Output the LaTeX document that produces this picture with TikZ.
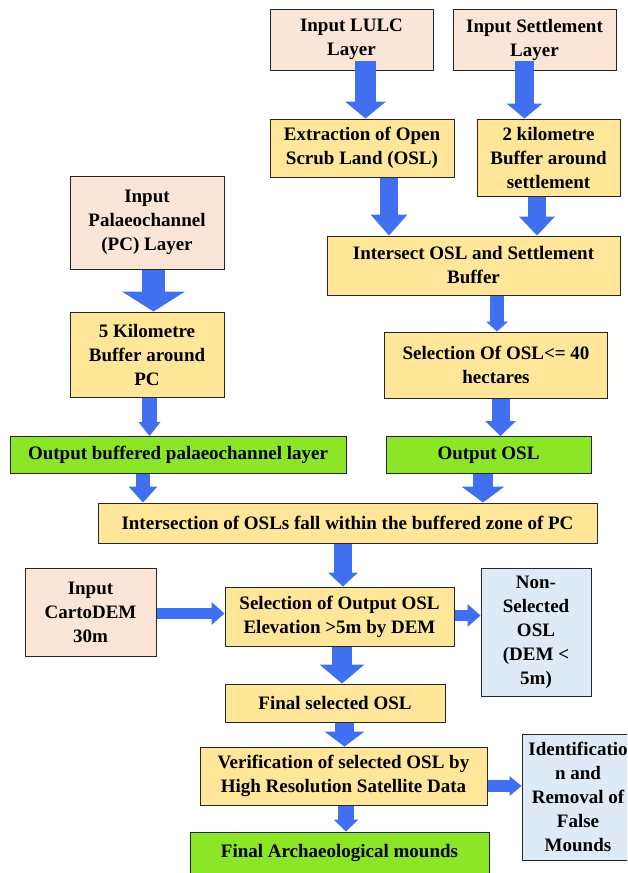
\documentclass[tikz,border=0pt]{standalone}
\usepackage{fontspec}
\setmainfont{Liberation Serif}
\usetikzlibrary{arrows.meta}

\definecolor{inputpink}{RGB}{251,229,214}
\definecolor{stepyellow}{RGB}{255,230,153}
\definecolor{outgreen}{RGB}{140,230,40}
\definecolor{dropblue}{RGB}{222,235,247}
\definecolor{flowblue}{RGB}{64,112,240}

\tikzset{
  box/.style={draw=black!85, line width=1pt, align=center, inner sep=2pt,
    font=\fontsize{19}{24}\selectfont\bfseries},
  inbox/.style={box, fill=inputpink},
  procbox/.style={box, fill=stepyellow},
  outbox/.style={box, fill=outgreen},
  dropbox/.style={box, fill=dropblue},
  % shaft width, head width, head length
  flow/.style n args={3}{draw=flowblue, line width=#1,
    -{Triangle[width=#2, length=#3, line width=0pt]}},
}

\begin{document}
\begin{tikzpicture}[x=1pt, y=-1pt]
    \useasboundingbox (0,0) rectangle (627,873);
    \clip (0,0) rectangle (627,873);

    % input layers
    \node[inbox, minimum width=163pt, minimum height=61pt] (lulc) at (351.5,39.5) {Input LULC\\Layer};
    \node[inbox, minimum width=163pt, minimum height=61pt] (settin) at (534.5,39.5) {Input Settlement\\Layer};
    \node[inbox, minimum width=154pt, minimum height=93pt] (pcin) at (147,222.5) {Input\\Palaeochannel\\(PC) Layer};
    \node[inbox, minimum width=131pt, minimum height=88pt] (dem) at (90.5,612) {Input\\CartoDEM\\30m};

    % processing steps
    \node[procbox, minimum width=184pt, minimum height=58pt] (extract) at (362,148) {Extraction of Open\\Scrub Land (OSL)};
    \node[procbox, minimum width=143pt, minimum height=77pt] (sbuf) at (548.5,157.5) {2 kilometre\\Buffer around\\settlement};
    \node[procbox, minimum width=293pt, minimum height=59pt] (isect) at (473.5,265.5) {Intersect OSL and Settlement\\Buffer};
    \node[procbox, minimum width=154pt, minimum height=85pt] (pcbuf) at (147,354.5) {5 Kilometre\\Buffer around\\PC};
    \node[procbox, minimum width=223pt, minimum height=66pt] (selarea) at (496,365) {Selection Of OSL<= 40\\hectares};
    \node[procbox, minimum width=499pt, minimum height=40pt] (within) at (347.5,523) {Intersection of OSLs fall within the buffered zone of PC};
    \node[procbox, minimum width=229pt, minimum height=59pt] (selelev) at (339.5,616.5) {Selection of Output OSL\\Elevation >5m by DEM};
    \node[procbox, minimum width=220pt, minimum height=38pt] (final) at (335,703) {Final selected OSL};
    \node[procbox, minimum width=287pt, minimum height=58pt] (verify) at (343.5,776) {Verification of selected OSL by\\High Resolution Satellite Data};

    % outputs
    \node[outbox, minimum width=336pt, minimum height=37pt] (outpc) at (178,455) {Output buffered palaeochannel layer};
    \node[outbox, minimum width=205pt, minimum height=37pt] (outosl) at (488.5,455) {Output OSL};
    \node[outbox, minimum width=299pt, minimum height=42pt] (arch) at (339.5,853) {Final Archaeological mounds};

    % dropped sites
    \node[dropbox, minimum width=110pt, minimum height=128pt] (nonsel) at (536,632) {Non-\\Selected\\OSL\\(DEM <\\5m)};
    \node[dropbox, minimum width=112pt, minimum height=126pt] (ident) at (578,797) {Identificatio\\n and\\Removal of\\False\\Mounds};

    % block arrows
    \draw[flow={21pt}{41pt}{17pt}] ([xshift=14pt,yshift=10pt]lulc.south) -- ([xshift=14pt]lulc.south |- extract.north);
    \draw[flow={19pt}{36pt}{15pt}] ([xshift=-10pt,yshift=10pt]settin.south) -- ([xshift=-10pt]settin.south |- sbuf.north);
    \draw[flow={18pt}{37pt}{21pt}] ([xshift=27pt]extract.south) -- ([xshift=27pt]extract.south |- isect.north);
    \draw[flow={18pt}{36pt}{19pt}] ([xshift=-11.5pt]sbuf.south) -- ([xshift=-11.5pt]sbuf.south |- isect.north);
    \draw[flow={23pt}{63pt}{20pt}] ([xshift=6.5pt]pcin.south) -- ([xshift=6.5pt]pcin.south |- pcbuf.north);
    \draw[flow={14pt}{22pt}{10pt}] ([xshift=23.5pt]isect.south) -- ([xshift=23.5pt]isect.south |- selarea.north);
    \draw[flow={15pt}{22pt}{14pt}] ([xshift=2.5pt]pcbuf.south) -- ([xshift=2.5pt]pcbuf.south |- outpc.north);
    \draw[flow={18pt}{31pt}{15pt}] ([xshift=4.5pt]selarea.south) -- ([xshift=4.5pt]selarea.south |- outosl.north);
    \draw[flow={14pt}{29pt}{16pt}] ([xshift=-35pt]outpc.south) -- ([xshift=-35pt]outpc.south |- within.north);
    \draw[flow={20pt}{43pt}{16pt}] ([xshift=-5.5pt]outosl.south) -- ([xshift=-5.5pt]outosl.south |- within.north);
    \draw[flow={18pt}{30pt}{14pt}] ([xshift=-4.5pt]within.south) -- ([xshift=-4.5pt]within.south |- selelev.north);
    \draw[flow={11pt}{23pt}{13pt}] ([yshift=-1.5pt]dem.east) -- ([yshift=-1.5pt]dem.east -| selelev.west);
    \draw[flow={11pt}{23pt}{13pt}] ([yshift=1pt]selelev.east) -- ([yshift=1pt]selelev.east -| nonsel.west);
    \draw[flow={20pt}{45pt}{19pt}] ([xshift=2.5pt]selelev.south) -- ([xshift=2.5pt]selelev.south |- final.north);
    \draw[flow={19pt}{40pt}{15pt}] ([xshift=9.5pt]final.south) -- ([xshift=9.5pt]final.south |- verify.north);
    \draw[flow={12pt}{20pt}{12pt}] ([yshift=-10pt]verify.east) -- ([yshift=-10pt]verify.east -| ident.west);
    \draw[flow={16pt}{25pt}{12pt}] ([xshift=2.5pt]verify.south) -- ([xshift=2.5pt]verify.south |- arch.north);
\end{tikzpicture}
\end{document}
